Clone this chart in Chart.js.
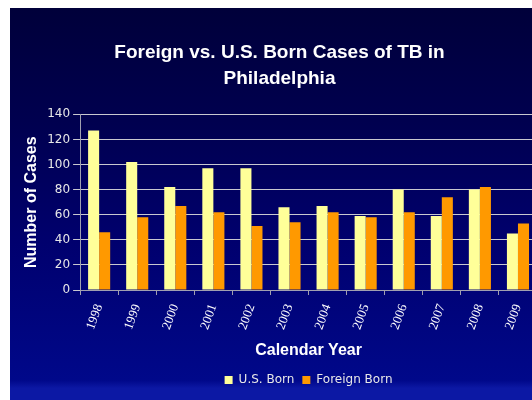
<!DOCTYPE html>
<html>
<head>
<meta charset="utf-8">
<script src="https://cdn.jsdelivr.net/npm/chart.js@4/dist/chart.umd.min.js"></script>
<style>
  html, body { margin: 0; padding: 0; width: 532px; height: 400px; overflow: hidden; background: #fff; }
  .slide {
    position: absolute; left: 10px; top: 8px; width: 522px; height: 392px; overflow: hidden;
    background: linear-gradient(to bottom, #00003a 0%, #000050 30%, #00006e 60%, #00088a 95%, #0c18a4 97%, #0c18a4 100%);
  }
  canvas { position: absolute; left: 0; top: 0; }
</style>
</head>
<body>
<div class="slide"><canvas id="chart" width="556" height="392"></canvas></div>
<script>
const years = ['1998', '1999', '2000', '2001', '2002', '2003', '2004', '2005', '2006', '2007', '2008', '2009'];
const usBorn = [127, 102, 82, 97, 97, 66, 67, 59, 80, 59, 80, 45];
const foreignBorn = [46, 58, 67, 62, 51, 54, 62, 58, 62, 74, 82, 53];
const yTicks = [0, 20, 40, 60, 80, 100, 120, 140];

const gridColor = '#c8c8d0';

new Chart(document.getElementById('chart'), {
  type: 'bar',
  data: {
    labels: years,
    datasets: [
      { label: 'U.S. Born', data: usBorn, backgroundColor: '#ffff99', borderWidth: 0 },
      { label: 'Foreign Born', data: foreignBorn, backgroundColor: '#ff9900', borderWidth: 0 }
    ]
  },
  options: {
    responsive: false,
    animation: false,
    devicePixelRatio: 1,
    layout: { padding: { left: 12, right: 29, top: 0, bottom: 4 } },
    datasets: { bar: { categoryPercentage: 0.58, barPercentage: 1 } },
    plugins: {
      title: {
        display: true,
        text: ['Foreign vs. U.S. Born Cases of TB in', 'Philadelphia'],
        color: '#ffffff',
        font: { family: 'Liberation Sans', size: 19, weight: 'bold', lineHeight: 1.35 },
        padding: { top: 32, bottom: 23 }
      },
      legend: {
        position: 'bottom',
        fullSize: false,
        labels: {
          color: '#e8e8e8',
          boxWidth: 8,
          boxHeight: 8,
          padding: 8,
          font: { family: 'DejaVu Sans', size: 12 }
        }
      },
      tooltip: { enabled: false }
    },
    scales: {
      x: {
        grid: { drawOnChartArea: false, color: '#a0a0b0', tickLength: 5 },
        border: { color: '#a0a0b0' },
        ticks: {
          color: '#ffffff',
          maxRotation: 70,
          minRotation: 70,
          padding: 7,
          font: { family: 'Liberation Serif', size: 13 }
        },
        title: {
          display: true,
          text: 'Calendar Year',
          color: '#ffffff',
          font: { family: 'Liberation Sans', size: 16, weight: 'bold' },
          padding: { top: 2, bottom: 6 }
        }
      },
      y: {
        min: 0,
        max: 140,
        afterBuildTicks: (axis) => { axis.ticks = yTicks.map(v => ({ value: v })); },
        grid: { color: gridColor, tickLength: 7 },
        border: { color: '#a0a0b0' },
        ticks: {
          color: '#e8e8e8',
          padding: 3,
          font: { family: 'DejaVu Sans', size: 12 }
        },
        title: {
          display: true,
          text: 'Number of Cases',
          color: '#ffffff',
          font: { family: 'Liberation Sans', size: 16, weight: 'bold' },
          padding: { top: 0, bottom: 3 }
        }
      }
    }
  }
});
</script>
</body>
</html>
